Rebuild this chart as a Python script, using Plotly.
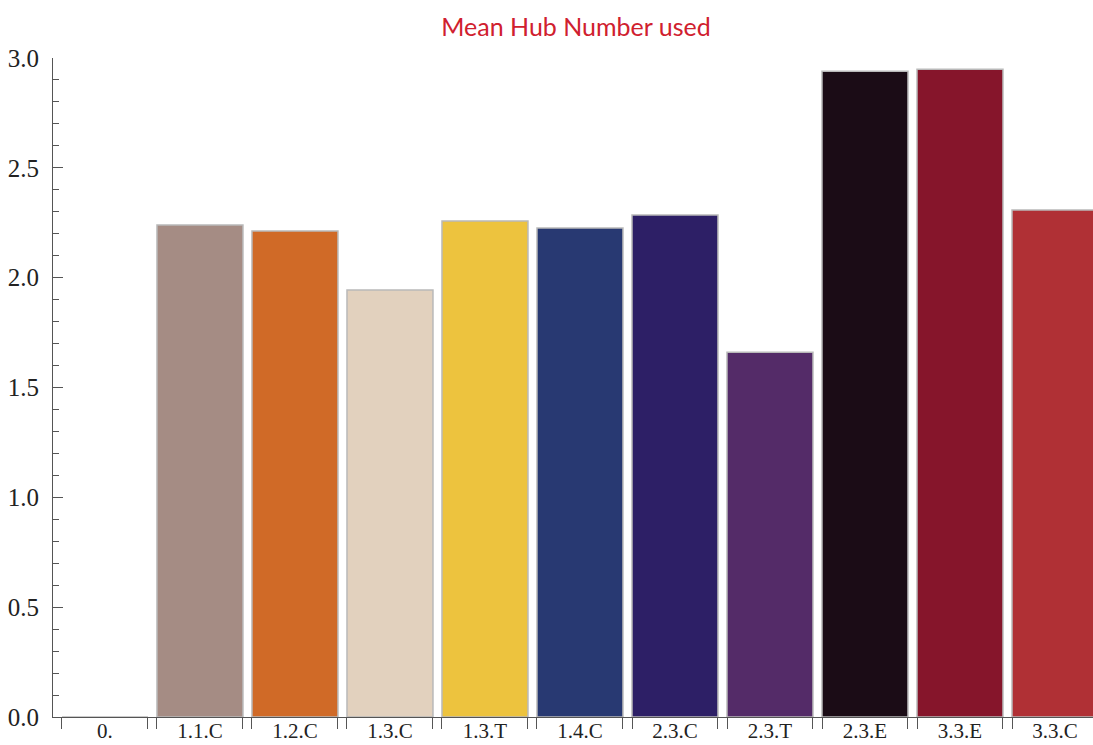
import plotly.graph_objects as go

categories = ["0.", "1.1.C", "1.2.C", "1.3.C", "1.3.T", "1.4.C", "2.3.C", "2.3.T", "2.3.E", "3.3.E", "3.3.C"]
values = [0.0, 2.24, 2.212, 1.944, 2.258, 2.226, 2.285, 1.661, 2.940, 2.949, 2.308]
colors = ["#FFFFFF", "#A58C84", "#D06A27", "#E2D1BE", "#EDC33E", "#283972",
          "#2D1F66", "#542B68", "#1B0C16", "#86152B", "#B03035"]
ytick_vals = [0.0, 0.5, 1.0, 1.5, 2.0, 2.5, 3.0]
ytick_text = ["0.0", "0.5", "1.0", "1.5", "2.0", "2.5", "3.0"]

bar_width = 0.905
xpos = list(range(len(categories)))
edges = []
for p in xpos:
    edges += [p - bar_width / 2, p + bar_width / 2]

fig = go.Figure()
fig.add_bar(x=xpos, y=values, width=bar_width,
            marker=dict(color=colors, line=dict(color="#b9b9b9", width=1.5)),
            hoverinfo="skip")
fig.add_scatter(x=edges, y=[0] * len(edges), mode="markers",
                marker=dict(opacity=0), xaxis="x2", hoverinfo="skip", showlegend=False)

serif = "Liberation Serif"
fig.update_layout(
    width=1093, height=745,
    margin=dict(l=53, r=0, t=58, b=28),
    paper_bgcolor="white", plot_bgcolor="white",
    showlegend=False,
    title=dict(text="Mean Hub Number used", x=0.527, xanchor="center",
               y=1 - 27 / 745, yanchor="middle", yref="container",
               font=dict(family="Lato", size=25, color="#D0202E")),
    xaxis=dict(range=[-0.547, 10.4], tickvals=xpos, ticktext=categories,
               ticks="", showline=True, linecolor="#555555", linewidth=1,
               showgrid=False, zeroline=False, ticklabelstandoff=-5, automargin=False,
               tickfont=dict(family=serif, size=21, color="#222222")),
    xaxis2=dict(overlaying="x", anchor="y", side="bottom", matches="x",
                range=[-0.547, 10.4], tickvals=edges, showticklabels=False,
                ticks="outside", ticklen=11, tickcolor="#555555", tickwidth=1,
                showline=False, showgrid=False, zeroline=False, automargin=False),
    yaxis=dict(range=[0, 3.0], tickvals=ytick_vals, ticktext=ytick_text,
               ticks="inside", ticklen=10, tickcolor="#555555", tickwidth=1,
               minor=dict(dtick=0.1, ticks="inside", ticklen=6, tickcolor="#555555", tickwidth=1),
               showline=True, linecolor="#555555", linewidth=1,
               showgrid=False, zeroline=False, ticklabelstandoff=8, automargin=False,
               tickfont=dict(family=serif, size=25, color="#222222")),
)

fig.write_html("out.html", config={"displayModeBar": False},
               post_script="document.body.style.margin='0';document.body.style.overflow='hidden';")
